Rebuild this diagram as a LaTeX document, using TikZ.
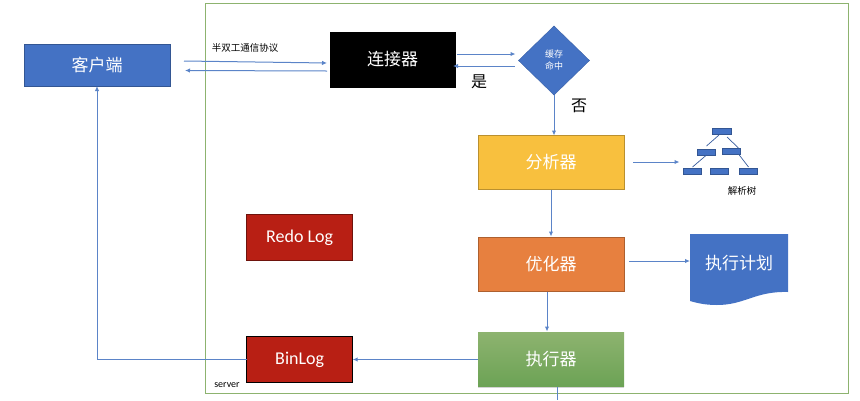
\documentclass[tikz,border=0pt]{standalone}
\usepackage{fontspec}
\setmainfont{Noto Sans CJK SC}
\newfontfamily\latfont{Carlito}
\usetikzlibrary{arrows.meta,positioning,shapes.geometric,shadows}
\definecolor{boxblue}{HTML}{4472C4}
\definecolor{boxyellow}{HTML}{F8C03E}
\definecolor{boxorange}{HTML}{E7803F}
\definecolor{boxred}{HTML}{B81F14}
\definecolor{linkblue}{HTML}{5B84C8}
\definecolor{framegreen}{HTML}{8DB36F}

\begin{document}
\begin{tikzpicture}[
  x=1pt, y=-1pt,
  box/.style={draw=#1!75!black, fill=#1, text=white, inner sep=0pt, outer sep=0pt, line width=0.7pt,
    font=\fontsize{17}{20}\selectfont},
  wide/.style={minimum width=146pt, minimum height=54pt},
  logbox/.style={minimum width=106pt, minimum height=46pt, font=\latfont\fontsize{18}{21}\selectfont},
  leaf/.style={fill=boxblue, draw=boxblue!75!black, line width=0.3pt, inner sep=0pt, outer sep=0pt,
    minimum width=18pt, minimum height=6pt},
  note/.style={inner sep=0pt, font=\fontsize{9.5}{11}\selectfont},
  big/.style={inner sep=0pt, font=\fontsize{16}{19}\selectfont},
  link/.style={->, draw=linkblue, line width=1pt},
  twig/.style={draw=boxblue!80!black, line width=0.7pt},
  >={Latex[length=5pt,width=4.5pt]}
]
\useasboundingbox (0,0) rectangle (860,400);

% server frame
\node[draw=framegreen, line width=1pt, inner sep=0pt, minimum width=643pt, minimum height=390pt] (server) at (527,198) {};
\node[note, font=\latfont\fontsize{10}{12}\selectfont] (serverlabel) at (227,385) {server};

% client and connector
\node[box=boxblue, minimum width=146pt, minimum height=42pt] (client) at (97,65) {客户端};
\node[box=black, minimum width=125pt, minimum height=55pt] (conn) at (392.5,59.5) {连接器};
\node[diamond, aspect=1, fill=boxblue, draw=boxblue!85!black, text=white, inner sep=0pt, outer sep=0pt,
  minimum width=71pt, minimum height=69pt, align=center, font=\fontsize{9}{12}\selectfont] (cache) at (554,60.5) {缓存\\命中};

% main column
\node[box=boxyellow, wide] (ana) at (551,162.5) {分析器};
\node[box=boxorange, wide, below=48pt of ana] (opt) {优化器};
\node[box=framegreen!90!black, draw=none, wide, top color=framegreen, bottom color=framegreen!85!black!90!green,
  drop shadow={shadow xshift=0pt, shadow yshift=-1.5pt, opacity=0.35}, below=41pt of opt] (exec) {执行器};

% logs
\node[box=boxred, logbox, draw=black] (binlog) at (299.7,359.5) {BinLog};
\node[box=boxred, logbox, draw=boxred!60!black, above=76pt of binlog] (redo) {Redo Log};

% execution plan
\node[inner sep=0pt, outer sep=0pt, minimum width=98pt, minimum height=58pt] (plan) at (739,263) {};
\fill[boxblue] (plan.north west) -- (plan.north east) -- (plan.south east)
  .. controls (755,291) and (745,305) .. (717,305)
  .. controls (705,305) and (697,303) .. (690,301) -- cycle;
\node[text=white, inner sep=0pt, font=\fontsize{17}{20}\selectfont] (plantext) at (plan.center) {执行计划};

% parse tree
\node[leaf, minimum width=19pt] (root) at (722,131) {};
\node[leaf] (midl) at (706.5,152) {};
\node[leaf] (midr) at (731.5,151) {};
\node[leaf] (leafa) at (692.5,171) {};
\node[leaf] (leafb) at (719,171) {};
\node[leaf] (leafc) at (748.5,171) {};
\node[note] (treelabel) at (742,191) {解析树};
\draw[twig] ([xshift=-3pt,yshift=-1pt]root.south) -- ([yshift=3pt]midl.north);
\draw[twig] ([xshift=5pt,yshift=-3pt]root.south) -- ([xshift=7pt]midr.north);
\draw[twig] ([yshift=0pt]midl.south) -- ([yshift=1pt]leafa.north);
\draw[twig] ([xshift=7pt]midr.south) -- ([yshift=1pt]leafc.north);

% labels
\node[note] (duplex) at (245,48) {半双工通信协议};
\node[big] (yes) at (479,82) {是};
\node[big] (no) at (579,106) {否};

% client <-> connector
\draw[link] ([xshift=14pt,yshift=4pt]client.east) -- ([xshift=-3pt,yshift=-3.5pt]conn.west);
\draw[link] ([xshift=-3pt,yshift=-11.5pt]conn.west) -- ([xshift=15pt,yshift=-5.5pt]client.east);

% connector <-> cache
\draw[link] ([xshift=2pt,yshift=5.5pt]conn.east) -- ([xshift=-3pt,yshift=6.5pt]cache.west);
\draw[link] ([xshift=-4pt,yshift=-5.5pt]cache.west) -- ([xshift=-2pt,yshift=-6.5pt]conn.east);

% main flow
\draw[link] (cache.south) -- ([xshift=3pt]ana.north);
\draw[link] (ana.south) -- ([yshift=1pt]opt.north);
\draw[link] ([xshift=-4pt]opt.south) -- ([xshift=-4pt,yshift=1pt]exec.north);
\draw[link] ([xshift=9pt,yshift=0.5pt]ana.east) -- ([yshift=6pt,xshift=-4pt]leafa.north west);
\draw[link] ([xshift=5pt,yshift=3.5pt]opt.east) -- ([yshift=2pt]plan.west);

% executor output
\coordinate (execout) at (557,400);
\draw[draw=linkblue, line width=1pt] ([xshift=6pt]exec.south) -- (execout);
\draw[link] (exec.west) -- (binlog.east);
\draw[link] (binlog.west) -| (client.south);
\end{tikzpicture}
\end{document}
